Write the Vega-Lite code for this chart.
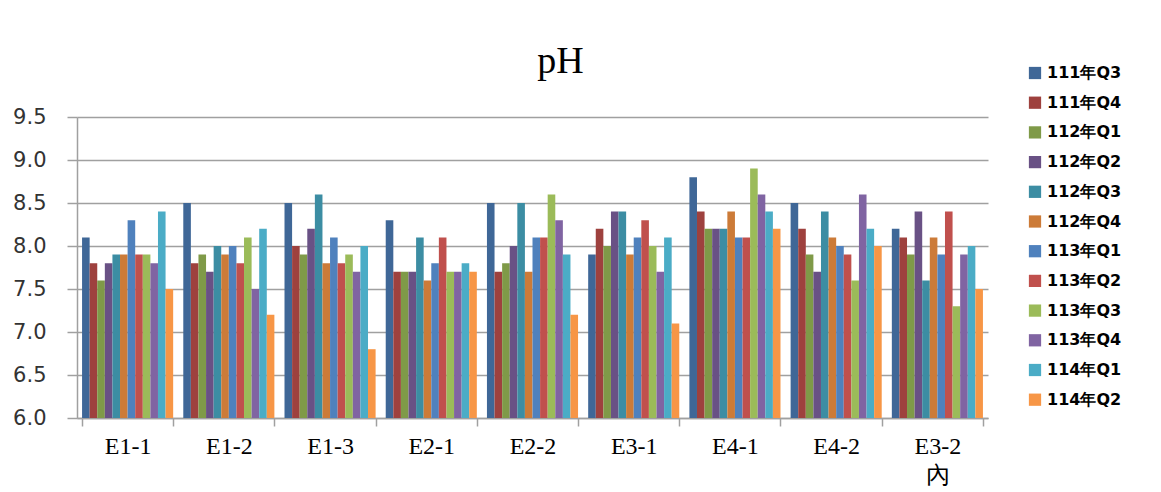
{
  "$schema": "https://vega.github.io/schema/vega-lite/v6.json",
  "width": 911,
  "height": 301,
  "autosize": {"type": "none"},
  "padding": {"left": 77, "top": 117, "right": 173, "bottom": 74},
  "background": "white",
  "title": {"text": "pH", "font": "Liberation Serif", "fontSize": 38, "fontWeight": "normal", "color": "#000000", "dx": 28, "offset": -16, "anchor": "middle"},
  "config": {"view": {"stroke": null}},
  "data": {"values": [
    {"site":"E1-1","q":"111年Q3","v":8.1},{"site":"E1-1","q":"111年Q4","v":7.8},{"site":"E1-1","q":"112年Q1","v":7.6},{"site":"E1-1","q":"112年Q2","v":7.8},{"site":"E1-1","q":"112年Q3","v":7.9},{"site":"E1-1","q":"112年Q4","v":7.9},{"site":"E1-1","q":"113年Q1","v":8.3},{"site":"E1-1","q":"113年Q2","v":7.9},{"site":"E1-1","q":"113年Q3","v":7.9},{"site":"E1-1","q":"113年Q4","v":7.8},{"site":"E1-1","q":"114年Q1","v":8.4},{"site":"E1-1","q":"114年Q2","v":7.5},
    {"site":"E1-2","q":"111年Q3","v":8.5},{"site":"E1-2","q":"111年Q4","v":7.8},{"site":"E1-2","q":"112年Q1","v":7.9},{"site":"E1-2","q":"112年Q2","v":7.7},{"site":"E1-2","q":"112年Q3","v":8.0},{"site":"E1-2","q":"112年Q4","v":7.9},{"site":"E1-2","q":"113年Q1","v":8.0},{"site":"E1-2","q":"113年Q2","v":7.8},{"site":"E1-2","q":"113年Q3","v":8.1},{"site":"E1-2","q":"113年Q4","v":7.5},{"site":"E1-2","q":"114年Q1","v":8.2},{"site":"E1-2","q":"114年Q2","v":7.2},
    {"site":"E1-3","q":"111年Q3","v":8.5},{"site":"E1-3","q":"111年Q4","v":8.0},{"site":"E1-3","q":"112年Q1","v":7.9},{"site":"E1-3","q":"112年Q2","v":8.2},{"site":"E1-3","q":"112年Q3","v":8.6},{"site":"E1-3","q":"112年Q4","v":7.8},{"site":"E1-3","q":"113年Q1","v":8.1},{"site":"E1-3","q":"113年Q2","v":7.8},{"site":"E1-3","q":"113年Q3","v":7.9},{"site":"E1-3","q":"113年Q4","v":7.7},{"site":"E1-3","q":"114年Q1","v":8.0},{"site":"E1-3","q":"114年Q2","v":6.8},
    {"site":"E2-1","q":"111年Q3","v":8.3},{"site":"E2-1","q":"111年Q4","v":7.7},{"site":"E2-1","q":"112年Q1","v":7.7},{"site":"E2-1","q":"112年Q2","v":7.7},{"site":"E2-1","q":"112年Q3","v":8.1},{"site":"E2-1","q":"112年Q4","v":7.6},{"site":"E2-1","q":"113年Q1","v":7.8},{"site":"E2-1","q":"113年Q2","v":8.1},{"site":"E2-1","q":"113年Q3","v":7.7},{"site":"E2-1","q":"113年Q4","v":7.7},{"site":"E2-1","q":"114年Q1","v":7.8},{"site":"E2-1","q":"114年Q2","v":7.7},
    {"site":"E2-2","q":"111年Q3","v":8.5},{"site":"E2-2","q":"111年Q4","v":7.7},{"site":"E2-2","q":"112年Q1","v":7.8},{"site":"E2-2","q":"112年Q2","v":8.0},{"site":"E2-2","q":"112年Q3","v":8.5},{"site":"E2-2","q":"112年Q4","v":7.7},{"site":"E2-2","q":"113年Q1","v":8.1},{"site":"E2-2","q":"113年Q2","v":8.1},{"site":"E2-2","q":"113年Q3","v":8.6},{"site":"E2-2","q":"113年Q4","v":8.3},{"site":"E2-2","q":"114年Q1","v":7.9},{"site":"E2-2","q":"114年Q2","v":7.2},
    {"site":"E3-1","q":"111年Q3","v":7.9},{"site":"E3-1","q":"111年Q4","v":8.2},{"site":"E3-1","q":"112年Q1","v":8.0},{"site":"E3-1","q":"112年Q2","v":8.4},{"site":"E3-1","q":"112年Q3","v":8.4},{"site":"E3-1","q":"112年Q4","v":7.9},{"site":"E3-1","q":"113年Q1","v":8.1},{"site":"E3-1","q":"113年Q2","v":8.3},{"site":"E3-1","q":"113年Q3","v":8.0},{"site":"E3-1","q":"113年Q4","v":7.7},{"site":"E3-1","q":"114年Q1","v":8.1},{"site":"E3-1","q":"114年Q2","v":7.1},
    {"site":"E4-1","q":"111年Q3","v":8.8},{"site":"E4-1","q":"111年Q4","v":8.4},{"site":"E4-1","q":"112年Q1","v":8.2},{"site":"E4-1","q":"112年Q2","v":8.2},{"site":"E4-1","q":"112年Q3","v":8.2},{"site":"E4-1","q":"112年Q4","v":8.4},{"site":"E4-1","q":"113年Q1","v":8.1},{"site":"E4-1","q":"113年Q2","v":8.1},{"site":"E4-1","q":"113年Q3","v":8.9},{"site":"E4-1","q":"113年Q4","v":8.6},{"site":"E4-1","q":"114年Q1","v":8.4},{"site":"E4-1","q":"114年Q2","v":8.2},
    {"site":"E4-2","q":"111年Q3","v":8.5},{"site":"E4-2","q":"111年Q4","v":8.2},{"site":"E4-2","q":"112年Q1","v":7.9},{"site":"E4-2","q":"112年Q2","v":7.7},{"site":"E4-2","q":"112年Q3","v":8.4},{"site":"E4-2","q":"112年Q4","v":8.1},{"site":"E4-2","q":"113年Q1","v":8.0},{"site":"E4-2","q":"113年Q2","v":7.9},{"site":"E4-2","q":"113年Q3","v":7.6},{"site":"E4-2","q":"113年Q4","v":8.6},{"site":"E4-2","q":"114年Q1","v":8.2},{"site":"E4-2","q":"114年Q2","v":8.0},
    {"site":"E3-2|內","q":"111年Q3","v":8.2},{"site":"E3-2|內","q":"111年Q4","v":8.1},{"site":"E3-2|內","q":"112年Q1","v":7.9},{"site":"E3-2|內","q":"112年Q2","v":8.4},{"site":"E3-2|內","q":"112年Q3","v":7.6},{"site":"E3-2|內","q":"112年Q4","v":8.1},{"site":"E3-2|內","q":"113年Q1","v":7.9},{"site":"E3-2|內","q":"113年Q2","v":8.4},{"site":"E3-2|內","q":"113年Q3","v":7.3},{"site":"E3-2|內","q":"113年Q4","v":7.9},{"site":"E3-2|內","q":"114年Q1","v":8.0},{"site":"E3-2|內","q":"114年Q2","v":7.5}
  ]},
  "mark": {"type": "bar", "strokeWidth": 0},
  "encoding": {
    "x": {
      "field": "site", "type": "nominal", "sort": null, "title": null,
      "scale": {"paddingInner": 0.1, "paddingOuter": 0.05},
      "axis": {"labelAngle": 0, "labelFont": "Liberation Serif", "labelFontSize": 24, "labelColor": "#000000", "labelExpr": "split(datum.label, '|')", "labelLineHeight": 29, "labelPadding": 8, "tickSize": 8, "tickColor": "#A0A0A0", "tickWidth": 1.5, "domainColor": "#A0A0A0", "domainWidth": 1.5, "tickBand": "extent"}
    },
    "xOffset": {"field": "q", "type": "nominal", "sort": null, "scale": {"paddingInner": 0, "paddingOuter": 0}},
    "y": {
      "field": "v", "type": "quantitative", "title": null,
      "scale": {"domain": [6, 9.5], "zero": false, "nice": false},
      "axis": {"values": [6, 6.5, 7, 7.5, 8, 8.5, 9, 9.5], "format": ".1f", "labelFont": "DejaVu Sans", "labelFontSize": 21, "labelColor": "#333333", "labelPadding": 21, "tickSize": 10, "tickColor": "#A0A0A0", "tickWidth": 1.5, "domainColor": "#A0A0A0", "domainWidth": 1.5, "grid": true, "gridColor": "#A0A0A0", "gridWidth": 1.5}
    },
    "y2": {"datum": 6},
    "color": {
      "field": "q", "type": "nominal",
      "scale": {
        "domain": ["111年Q3","111年Q4","112年Q1","112年Q2","112年Q3","112年Q4","113年Q1","113年Q2","113年Q3","113年Q4","114年Q1","114年Q2"],
        "range": ["#3F6797","#9E413E","#7F9A48","#695185","#3C8DA3","#CC7B38","#4F81BD","#C0504D","#9BBB59","#8064A2","#4BACC6","#F79646"]
      },
      "legend": {"title": null, "orient": "none", "legendX": 950, "legendY": -52, "symbolType": "square", "symbolSize": 150, "symbolStrokeWidth": 0, "labelFont": "DejaVu Sans", "labelFontSize": 16, "labelFontWeight": "bold", "labelColor": "#000000", "rowPadding": 13.7, "labelOffset": 4}
    }
  }
}
